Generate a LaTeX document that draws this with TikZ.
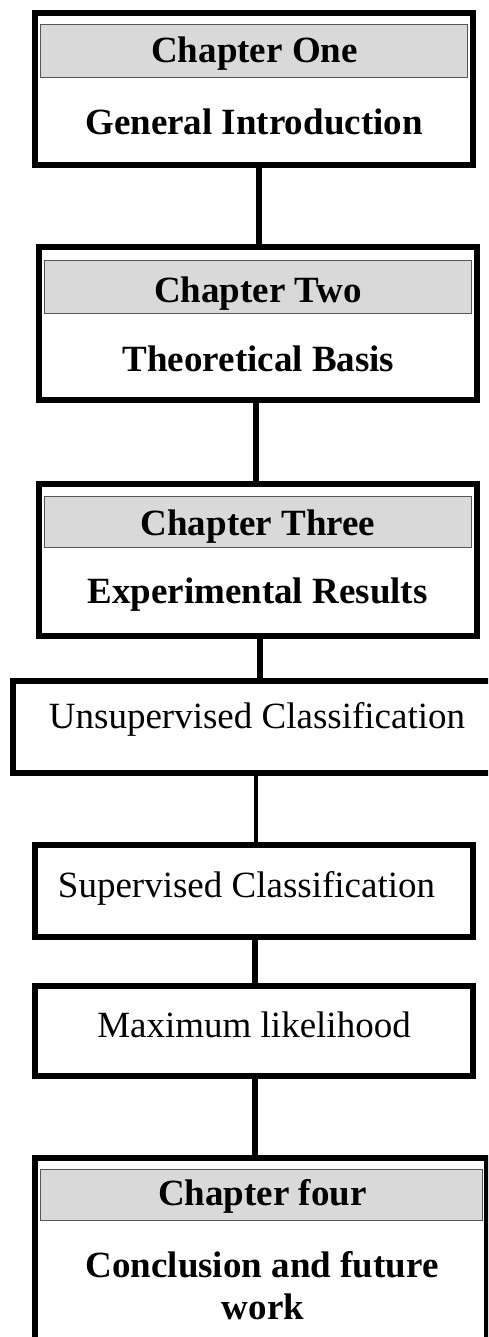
\documentclass[tikz,border=0pt]{standalone}
\usepackage{fontspec}
\setmainfont{Liberation Serif}
\usetikzlibrary{positioning}
\definecolor{HeadGray}{HTML}{D9D9D9}
\definecolor{HeadLine}{HTML}{555555}

\begin{document}
\begin{tikzpicture}[
  x=1pt,y=-1pt,
  chapbox/.style={rectangle,draw=black,line width=6pt,fill=white,inner sep=0pt},
  head/.style={rectangle,draw=HeadLine,line width=1.2pt,fill=HeadGray,inner sep=0pt},
  title/.style={anchor=base,font=\fontsize{37}{42}\selectfont\bfseries,inner sep=0pt},
  plain/.style={anchor=base,font=\fontsize{37}{42}\selectfont,inner sep=0pt},
  link/.style={line width=6pt,draw=black}]
\clip (0,0) rectangle (488,1337);
\node[chapbox,minimum width=438pt,minimum height=152pt] (one) at (254,89) {};
\node[head,minimum width=427pt,minimum height=53pt] (one-head) at (254,51) {};
\node[title] (one-title) at (254.5,63) {Chapter One};
\node[title] (one-text) at (254,135) {General Introduction};
\node[chapbox,minimum width=438pt,minimum height=153pt] (two) at (258,323.5) {};
\node[head,minimum width=427pt,minimum height=53pt] (two-head) at (258,287) {};
\node[title] (two-title) at (258,302) {Chapter Two};
\node[title] (two-text) at (258.5,371) {Theoretical Basis};
\node[chapbox,minimum width=438pt,minimum height=152pt] (three) at (258,560) {};
\node[head,minimum width=427pt,minimum height=51pt] (three-head) at (258,522) {};
\node[title] (three-title) at (258,535) {Chapter Three};
\node[title] (three-text) at (257.5,603) {Experimental Results};
\node[chapbox,minimum width=482pt,minimum height=92pt] (unsup) at (254,727) {};
\node[plain] (unsup-text) at (257,728) {Unsupervised Classification};
\node[chapbox,minimum width=438pt,minimum height=92pt] (sup) at (254,891) {};
\node[plain] (sup-text) at (246.5,897) {Supervised Classification};
\node[chapbox,minimum width=438pt,minimum height=90pt] (maxlik) at (254,1031) {};
\node[plain] (maxlik-text) at (254,1037) {Maximum likelihood};
\node[chapbox,minimum width=452pt,minimum height=199pt] (four) at (261,1257.5) {};
\node[head,minimum width=442pt,minimum height=51pt] (four-head) at (261.5,1195) {};
\node[title] (four-title) at (262.5,1205) {Chapter four};
\node[title] (four-text) at (262,1277) {Conclusion and future};
\node[title] (four-text2) at (263,1319) {work};
\draw[link] ([xshift=5pt]one.south) -- ([xshift=5pt]one.south |- two.north);
\draw[link] ([xshift=-2pt]two.south) -- ([xshift=-2pt]two.south |- three.north);
\draw[link] ([xshift=2pt]three.south) -- ([xshift=2pt]three.south |- unsup.north);
\draw[link,line width=4.5pt] ([xshift=2pt]unsup.south) -- ([xshift=2pt]unsup.south |- sup.north);
\draw[link] ([xshift=1pt]sup.south) -- ([xshift=1pt]sup.south |- maxlik.north);
\draw[link] ([xshift=1pt]maxlik.south) -- ([xshift=1pt]maxlik.south |- four.north);
\end{tikzpicture}
\end{document}
